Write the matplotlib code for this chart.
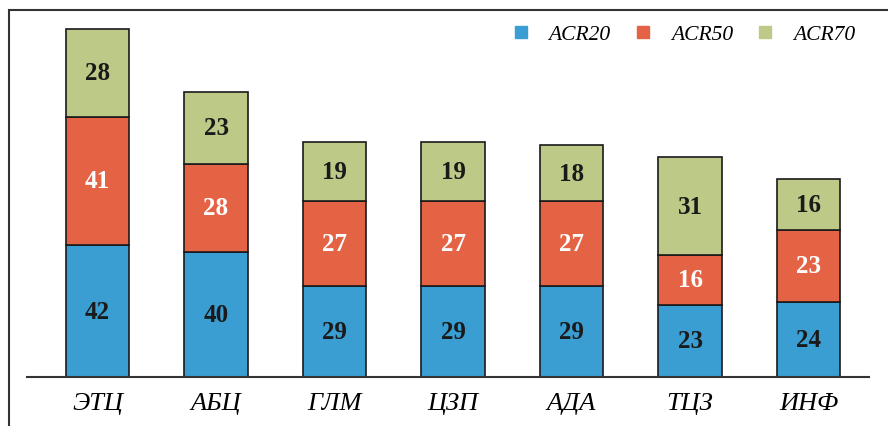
import matplotlib
matplotlib.use("Agg")
import matplotlib.pyplot as plt
from matplotlib.lines import Line2D
from matplotlib.patches import Rectangle
import numpy as np

# Data
categories = ["ЭТЦ", "АБЦ", "ГЛМ", "ЦЗП", "АДА", "ТЦЗ", "ИНФ"]
acr20 = [42, 40, 29, 29, 29, 23, 24]
acr50 = [41, 28, 27, 27, 27, 16, 23]
acr70 = [28, 23, 19, 19, 18, 31, 16]
series_names = ["ACR20", "ACR50", "ACR70"]

colors = ["#3A9ED3", "#E56345", "#BDC986"]
label_colors = ["#1a1a1a", "white", "#1a1a1a"]

plt.rcParams["font.family"] = ["Liberation Serif", "DejaVu Serif"]

fig = plt.figure(figsize=(8.88, 4.27), dpi=100)
ax = fig.add_axes([27 / 888, 49 / 427, 842 / 888, 367 / 427])

x = np.arange(len(categories))
bottom = np.zeros(len(categories))
for vals, col, tcol in zip([acr20, acr50, acr70], colors, label_colors):
    bars = ax.bar(x, vals, width=0.535, bottom=bottom, color=col,
                  edgecolor="#1a1a1a", linewidth=1.2, zorder=2)
    for b, v, y0 in zip(bars, vals, bottom):
        ax.text(b.get_x() + b.get_width() / 2, y0 + v / 2, str(v),
                ha="center", va="center", fontsize=18, fontweight="bold",
                color=tcol, zorder=3)
    bottom = bottom + np.array(vals)

ax.set_xlim(-0.595, 6.51)
ax.set_ylim(0, 117)
ax.set_xticks(x)
ax.set_xticklabels(categories, fontsize=19, style="italic")
ax.tick_params(axis="x", length=0, pad=11)
ax.set_yticks([])
for s in ["top", "right", "left"]:
    ax.spines[s].set_visible(False)
ax.spines["bottom"].set_color("#333333")
ax.spines["bottom"].set_linewidth(1.5)

# legend with small square markers
handles = [Line2D([], [], marker="s", linestyle="none", markersize=8,
                  markerfacecolor=c, markeredgecolor=c) for c in colors]
leg = ax.legend(handles, series_names, ncol=3, frameon=False,
                loc="upper right", bbox_to_anchor=(1.007, 1.014),
                prop={"style": "italic", "size": 15.5},
                handletextpad=0.8, columnspacing=1.0, handlelength=1.0)

# outer frame (left and top edges visible)
fig.patches.append(Rectangle((9 / 888, -0.1), 1.2, 0.974 + 0.1,
                             transform=fig.transFigure, fill=False,
                             edgecolor="#333333", linewidth=1.5))

fig.savefig("out.png", dpi=100)
